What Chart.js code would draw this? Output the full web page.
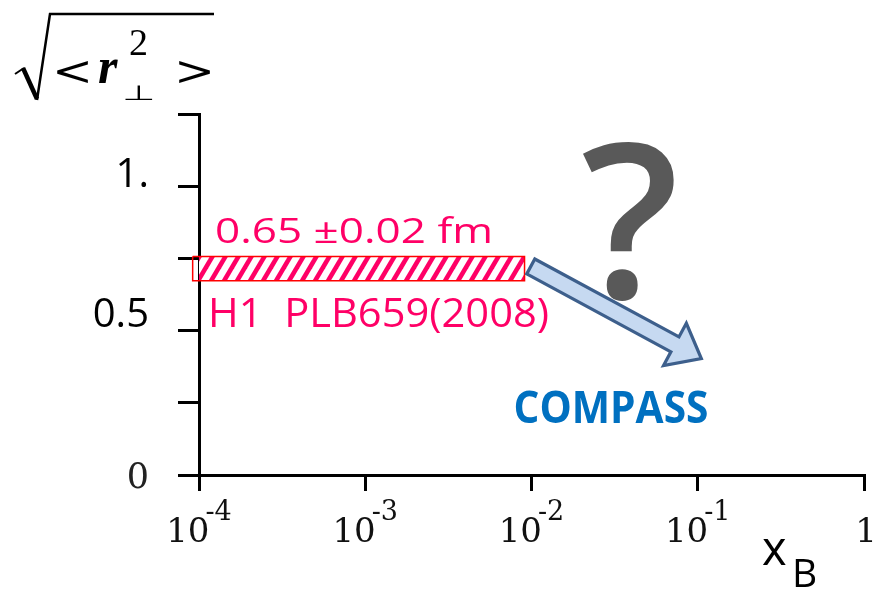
<!DOCTYPE html>
<html>
<head>
<meta charset="utf-8">
<script src="https://cdn.jsdelivr.net/npm/chart.js@4.4.1/dist/chart.umd.min.js"></script>
<style>
  html, body { margin: 0; padding: 0; background: #fff; }
  #wrap { width: 873px; height: 589px; }
</style>
</head>
<body>
<div id="wrap"><canvas id="chart"></canvas></div>
<script>
// x axis: decades of x_B (log scale)
var xTickValues = [0.0001, 0.001, 0.01, 0.1, 1];
var xTickBase = ['10', '10', '10', '10', '1'];
var xTickExp = ['-4', '-3', '-2', '-1', ''];

// y axis
var yTickValues = [0, 0.25, 0.5, 0.75, 1, 1.25];
var yTickLabels = ['0', '', '0.5', '', '1.', ''];

// H1 band (hatched box)
var h1X = [0.0000916, 0.00908];
var h1Y = [0.673, 0.757];

// arrow from the H1 band towards COMPASS
var arrowFrom = [0.0099, 0.722];
var arrowTo = [0.109, 0.398];

// annotation anchors (data units)
var h1ValueText = '0.65 \u00b10.02 fm';
var h1ValueAt = [0.0001248, 0.805];
var h1RefText = 'H1  PLB659(2008)';
var h1RefAt = [0.0001133, 0.513];
var compassText = 'COMPASS';
var compassAt = [0.00779, 0.186];
var questionText = '?';
var questionAt = [0.0392, 0.614];

var pink = '#ff0066';

function makeHatch() {
    var p = 13, h = 22;
    var c = document.createElement('canvas');
    c.width = p; c.height = h;
    var g = c.getContext('2d');
    g.fillStyle = '#fff';
    g.fillRect(0, 0, p, h);
    g.strokeStyle = pink;
    g.lineWidth = 4.6;
    for (var k = -1; k <= 1; k++) {
        g.beginPath();
        g.moveTo(k * p - p * 0.5, h * 1.5);
        g.lineTo(k * p + p * 1.5, -h * 0.5);
        g.stroke();
    }
    return g.createPattern(c, 'repeat');
}

function fitText(ctx, text, x, y, width) {
    var w = ctx.measureText(text).width;
    ctx.save();
    ctx.translate(x, y);
    ctx.scale(width / w, 1);
    ctx.fillText(text, 0, 0);
    ctx.restore();
}

function squashText(ctx, text, x, y, sy) {
    ctx.save();
    ctx.translate(x, y);
    ctx.scale(1, sy);
    ctx.fillText(text, 0, 0);
    ctx.restore();
}

var xLabels = {
    id: 'xLabels',
    afterDraw: function(chart) {
        var ctx = chart.ctx, sx = chart.scales.x;
        ctx.save();
        ctx.fillStyle = '#111';
        ctx.textBaseline = 'alphabetic';
        ctx.textAlign = 'left';
        for (var i = 0; i < xTickValues.length; i++) {
            var px = sx.getPixelForValue(xTickValues[i]);
            ctx.font = '34px "DejaVu Serif"';
            var wb = ctx.measureText(xTickBase[i]).width;
            ctx.font = '27px "DejaVu Serif"';
            var we = xTickExp[i] ? ctx.measureText(xTickExp[i]).width : 0;
            var left = px - (wb + we - 4) / 2;
            ctx.font = '34px "DejaVu Serif"';
            ctx.fillText(xTickBase[i], left, 542);
            if (xTickExp[i]) {
                ctx.font = '27px "DejaVu Serif"';
                ctx.fillText(xTickExp[i], left + wb - 4, 520);
            }
        }
        // axis title x_B
        ctx.fillStyle = '#000';
        ctx.font = '47px "Open Sans"';
        ctx.fillText('x', 762, 565);
        ctx.font = '39px "Open Sans"';
        ctx.fillText('B', 792, 587);
        ctx.restore();
    }
};

var yTitle = {
    id: 'yTitle',
    afterDraw: function(chart) {
        var ctx = chart.ctx;
        ctx.save();
        ctx.strokeStyle = '#000';
        ctx.lineCap = 'butt';
        ctx.lineJoin = 'miter';
        // radical sign
        ctx.lineWidth = 2;
        ctx.beginPath();
        ctx.moveTo(15, 74); ctx.lineTo(24, 68);
        ctx.stroke();
        ctx.lineWidth = 4.5;
        ctx.beginPath();
        ctx.moveTo(23, 68); ctx.lineTo(37, 99);
        ctx.stroke();
        ctx.lineWidth = 2.5;
        ctx.beginPath();
        ctx.moveTo(37, 100); ctx.lineTo(50, 14); ctx.lineTo(214, 14);
        ctx.stroke();

        ctx.fillStyle = '#000';
        ctx.textBaseline = 'alphabetic';
        ctx.textAlign = 'left';
        ctx.font = '49px "DejaVu Serif"';
        squashText(ctx, '<', 52, 85, 0.82);
        squashText(ctx, '>', 174, 85, 0.82);
        ctx.font = 'italic bold 50px "Liberation Serif"';
        ctx.fillText('r', 98, 83);
        ctx.font = '38px "Liberation Serif"';
        ctx.fillText('2', 129, 55);
        ctx.font = '38px "DejaVu Sans"';
        squashText(ctx, '\u22a5', 122, 100, 0.55);
        ctx.restore();
    }
};

var annotations = {
    id: 'annotations',
    afterDatasetsDraw: function(chart) {
        var ctx = chart.ctx, sx = chart.scales.x, sy = chart.scales.y;
        function px(p) { return [sx.getPixelForValue(p[0]), sy.getPixelForValue(p[1])]; }
        ctx.save();
        ctx.textBaseline = 'alphabetic';
        ctx.textAlign = 'left';

        // question mark
        var q = px(questionAt);
        ctx.fillStyle = '#595959';
        ctx.font = '600 216px "Open Sans"';
        ctx.textAlign = 'center';
        ctx.fillText(questionText, q[0], q[1]);
        ctx.textAlign = 'left';

        // arrow
        var a = px(arrowFrom), b = px(arrowTo);
        var dx = b[0] - a[0], dy = b[1] - a[1], len = Math.hypot(dx, dy);
        var ux = dx / len, uy = dy / len, nx = -uy, ny = ux;
        var sw = 8.5, hw = 24, hl = 30;
        var tx = b[0] - ux * 3, ty = b[1] - uy * 3;
        var bx = tx - ux * hl, by = ty - uy * hl;
        ctx.beginPath();
        ctx.moveTo(a[0] + nx * sw, a[1] + ny * sw);
        ctx.lineTo(bx + nx * sw, by + ny * sw);
        ctx.lineTo(bx + nx * hw, by + ny * hw);
        ctx.lineTo(tx, ty);
        ctx.lineTo(bx - nx * hw, by - ny * hw);
        ctx.lineTo(bx - nx * sw, by - ny * sw);
        ctx.lineTo(a[0] - nx * sw, a[1] - ny * sw);
        ctx.closePath();
        ctx.fillStyle = '#c6d9f1';
        ctx.fill();
        ctx.lineWidth = 3.2;
        ctx.lineJoin = 'miter';
        ctx.strokeStyle = '#3d5f8c';
        ctx.stroke();

        // H1 texts
        ctx.fillStyle = pink;
        var v = px(h1ValueAt);
        ctx.font = '500 34px "Open Sans"';
        fitText(ctx, h1ValueText, v[0], v[1], 278);
        var r = px(h1RefAt);
        ctx.font = '500 41px "Open Sans"';
        fitText(ctx, h1RefText, r[0], r[1], 341);

        // COMPASS
        var c = px(compassAt);
        ctx.fillStyle = '#0070c0';
        ctx.font = 'bold 44px "Open Sans"';
        fitText(ctx, compassText, c[0], c[1] + 2, 195);
        ctx.restore();
    }
};

var rect = [
    {x: h1X[0], y: h1Y[1]},
    {x: h1X[1], y: h1Y[1]},
    {x: h1X[1], y: h1Y[0]},
    {x: h1X[0], y: h1Y[0]},
    {x: h1X[0], y: h1Y[1]}
];

var ctx = document.getElementById('chart');
var chart = new Chart(ctx, {
    type: 'line',
    data: {
        datasets: [{
            label: 'H1',
            data: rect,
            borderColor: '#ff0000',
            borderWidth: 1.5,
            backgroundColor: makeHatch(),
            fill: 'shape',
            pointRadius: 0,
            tension: 0,
            clip: false
        }]
    },
    options: {
        responsive: true,
        maintainAspectRatio: false,
        animation: false,
        devicePixelRatio: 1,
        layout: { padding: { left: 0, top: 114, right: 9, bottom: 0 } },
        plugins: {
            legend: { display: false },
            tooltip: { enabled: false }
        },
        scales: {
            x: {
                type: 'logarithmic',
                min: xTickValues[0],
                max: xTickValues[xTickValues.length - 1],
                afterBuildTicks: function(s) {
                    s.ticks = xTickValues.map(function(v) { return {value: v}; });
                },
                afterFit: function(s) { s.height = 114; },
                border: { display: true, color: '#000', width: 3 },
                grid: {
                    drawOnChartArea: false,
                    drawTicks: true,
                    tickLength: 16,
                    color: '#000',
                    lineWidth: 3
                },
                ticks: { display: false }
            },
            y: {
                type: 'linear',
                min: yTickValues[0],
                max: yTickValues[yTickValues.length - 1],
                afterBuildTicks: function(s) {
                    s.ticks = yTickValues.map(function(v) { return {value: v}; });
                },
                afterFit: function(s) { s.width = 199; },
                border: { display: true, color: '#000', width: 3 },
                grid: {
                    drawOnChartArea: false,
                    drawTicks: true,
                    tickLength: 21,
                    color: '#000',
                    lineWidth: 3
                },
                ticks: {
                    autoSkip: false,
                    padding: 29,
                    color: function(c) { return c.tick && c.tick.value === 0 ? '#222' : '#000'; },
                    font: function(c) {
                        var v = c.tick ? c.tick.value : null;
                        if (v === 0) return {family: 'DejaVu Serif', size: 35, lineHeight: '8px'};
                        if (v === 0.5) return {family: 'Open Sans', size: 40, lineHeight: '30px'};
                        return {family: 'Open Sans', size: 40, lineHeight: '22px'};
                    },
                    callback: function(value) {
                        var i = yTickValues.indexOf(value);
                        var lab = i >= 0 ? yTickLabels[i] : '';
                        if (lab === '') return '';
                        if (value === 0) return ['', lab];
                        return [lab, ''];
                    }
                }
            }
        }
    },
    plugins: [annotations, xLabels, yTitle]
});
</script>
</body>
</html>
